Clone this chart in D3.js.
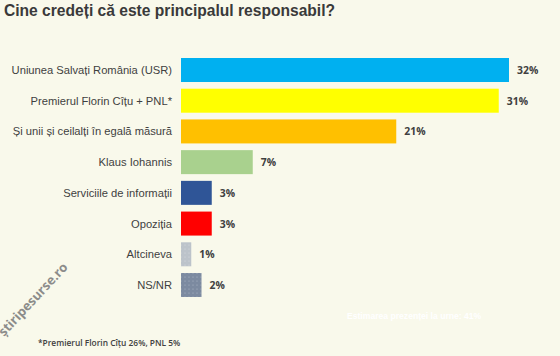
<!DOCTYPE html>
<html>
<head>
<meta charset="utf-8">
<script src="https://cdn.jsdelivr.net/npm/d3@7"></script>
<style>
html,body{margin:0;padding:0;background:#f9f9eb;}
svg{display:block;}
</style>
</head>
<body>
<svg id="chart" width="560" height="356"></svg>
<script>
const categories = ["Uniunea Salvați România (USR)", "Premierul Florin Cîțu + PNL*", "Și unii și ceilalți în egală măsură", "Klaus Iohannis", "Serviciile de informații", "Opoziția", "Altcineva", "NS/NR"];
const values = [32, 31, 21, 7, 3, 3, 1, 2];
const colors = ["#00b0f0", "#ffff00", "#ffc000", "#a9d18e", "#2f5597", "#ff0000", "#bcc3ca", "#7c8aa0"];
const title = "Cine credeți că este principalul responsabil?";
const footnote = "*Premierul Florin Cîțu 26%, PNL 5%";
const hiddenNote = "Estimarea prezenței la urne: 41%";
const watermark = "știripesurse.ro";

const svg = d3.select("#chart");
const W = 560, H = 356;

svg.append("rect").attr("width", W).attr("height", H).attr("fill", "#f9f9eb");

const defs = svg.append("defs");
const pat = defs.append("pattern").attr("id", "dots").attr("width", 4).attr("height", 4).attr("patternUnits", "userSpaceOnUse");
pat.append("circle").attr("cx", 1).attr("cy", 1).attr("r", 0.5).attr("fill", "#ffffff").attr("opacity", 0.45);

const x = d3.scaleLinear().domain([0, 32]).range([181, 509]);
const y = d3.scalePoint().domain(categories).range([70, 285]);
const bh = 24;

svg.append("text").attr("x", 4).attr("y", 16)
  .attr("font-family", "Liberation Sans, Arial, sans-serif")
  .attr("font-weight", "bold").attr("font-size", 15.6).attr("fill", "#3a3a3a")
  .text(title);

const rows = svg.append("g").selectAll("g").data(categories).join("g");

rows.append("rect")
  .attr("x", x(0))
  .attr("y", d => y(d) - bh / 2)
  .attr("width", (d, i) => x(values[i]) - x(0))
  .attr("height", bh)
  .attr("fill", (d, i) => colors[i]);

rows.filter((d, i) => i >= 6).append("rect")
  .attr("x", x(0))
  .attr("y", d => y(d) - bh / 2)
  .attr("width", d => x(values[categories.indexOf(d)]) - x(0))
  .attr("height", bh)
  .attr("fill", "url(#dots)");

rows.append("text")
  .attr("x", 172)
  .attr("y", d => y(d) + 4)
  .attr("text-anchor", "end")
  .attr("font-family", "Liberation Sans, Arial, sans-serif")
  .attr("font-size", 11.2).attr("fill", "#3f3f3f")
  .text(d => d);

rows.append("text")
  .attr("x", (d, i) => x(values[i]) + 8)
  .attr("y", d => y(d) + 4)
  .attr("font-family", "Open Sans, Liberation Sans, sans-serif")
  .attr("font-weight", "bold")
  .attr("font-size", 10.4).attr("fill", "#404040")
  .text((d, i) => values[i] + "%");

svg.append("text").attr("x", 38).attr("y", 346)
  .attr("font-family", "Open Sans, Liberation Sans, sans-serif")
  .attr("font-weight", 600)
  .attr("font-size", 8.4).attr("fill", "#404040")
  .text(footnote);

svg.append("text").attr("x", 347).attr("y", 319)
  .attr("font-family", "Liberation Sans, Arial, sans-serif")
  .attr("font-weight", "bold")
  .attr("font-size", 8.6).attr("fill", "#ffffff")
  .text(hiddenNote);

svg.append("text")
  .attr("transform", "translate(4,337) rotate(-47)")
  .attr("font-family", "Open Sans, Liberation Sans, sans-serif")
  .attr("font-weight", "bold")
  .attr("font-size", 13).attr("fill", "#7a7a7a").attr("opacity", 0.85)
  .text(watermark);
</script>
</body>
</html>
